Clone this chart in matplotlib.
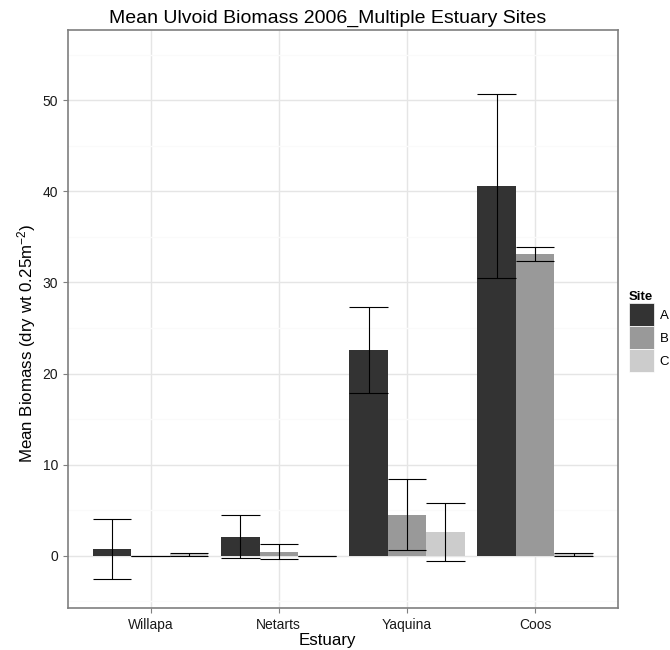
import numpy as np
import matplotlib
matplotlib.use("Agg")
import matplotlib.pyplot as plt
from matplotlib.patches import Patch

plt.rcParams["font.family"] = ["Liberation Sans", "DejaVu Sans"]
plt.rcParams["mathtext.fontset"] = "custom"
plt.rcParams["mathtext.rm"] = "Liberation Sans"
plt.rcParams["mathtext.it"] = "Liberation Sans"

estuaries = ["Willapa", "Netarts", "Yaquina", "Coos"]
sites = ["A", "B", "C"]
site_colors = ["#333333", "#999999", "#CCCCCC"]

# mean biomass per site, one list per estuary column order
mean_a = [0.7, 2.1, 22.6, 40.6]
mean_b = [0.0, 0.45, 4.5, 33.15]
mean_c = [0.15, 0.0, 2.6, 0.15]
# standard errors
se_a = [3.3, 2.4, 4.7, 10.1]
se_b = [0.0, 0.8, 3.9, 0.75]
se_c = [0.18, 0.0, 3.15, 0.2]

means = [mean_a, mean_b, mean_c]
ses = [se_a, se_b, se_c]

fig = plt.figure(figsize=(6.7, 6.5), dpi=100)
ax = fig.add_axes([0.1015, 0.0646, 0.8205, 0.89])

x = np.arange(1, len(estuaries) + 1)
w = 0.3
for i, (m, s, col) in enumerate(zip(means, ses, site_colors)):
    xs = x + (i - 1) * w
    m = np.array(m)
    s = np.array(s)
    ax.bar(xs, m, width=w, color=col, linewidth=0, zorder=2)
    ax.vlines(xs, m - s, m + s, color="black", linewidth=0.8, zorder=3)
    ax.hlines(m + s, xs - w / 2, xs + w / 2, color="black", linewidth=0.8, zorder=3)
    ax.hlines(m - s, xs - w / 2, xs + w / 2, color="black", linewidth=0.8, zorder=3)

ax.set_xlim(0.355, 4.645)
ax.set_ylim(-5.74, 57.76)
ax.set_xticks(x)
ax.set_xticklabels(estuaries)
ax.set_yticks([0, 10, 20, 30, 40, 50])
ax.set_yticks([-5, 5, 15, 25, 35, 45, 55], minor=True)
ax.grid(True, which="major", color="#E5E5E5", linewidth=1.0, zorder=0)
ax.grid(True, which="minor", axis="y", color="#FAFAFA", linewidth=1.0, zorder=0)
ax.set_axisbelow(True)
ax.tick_params(which="major", length=3.5, color="#7F7F7F", labelsize=10, labelcolor="#1A1A1A")
ax.tick_params(which="minor", length=0)
for sp in ax.spines.values():
    sp.set_color("#7F7F7F")
    sp.set_linewidth(1.2)

ax.set_xlabel("Estuary", fontsize=12.2)
ax.xaxis.set_label_coords(0.471, -0.044, transform=ax.transAxes)
ax.xaxis.label.set_va("top")
ax.set_ylabel("Mean Biomass (dry wt 0.25m$^{-2}$)", fontsize=12.2)
ax.yaxis.set_label_coords(-0.054, 0.458, transform=ax.transAxes)
fig.text(0.489, 0.985, "Mean Ulvoid Biomass 2006_Multiple Estuary Sites",
         fontsize=14, ha="center", va="top")

handles = [Patch(facecolor=c, edgecolor="white", linewidth=0.5) for c in site_colors]
leg = ax.legend(handles, sites, title="Site", loc="upper left",
                bbox_to_anchor=(1.01, 0.557), frameon=False, fontsize=9.5,
                handlelength=1.9, handleheight=2.3, labelspacing=0.0,
                handletextpad=0.45, borderaxespad=0.0)
leg.get_title().set_fontweight("bold")
leg.get_title().set_fontsize(9.5)
leg._legend_box.align = "left"

fig.savefig("out.png", dpi=100)
